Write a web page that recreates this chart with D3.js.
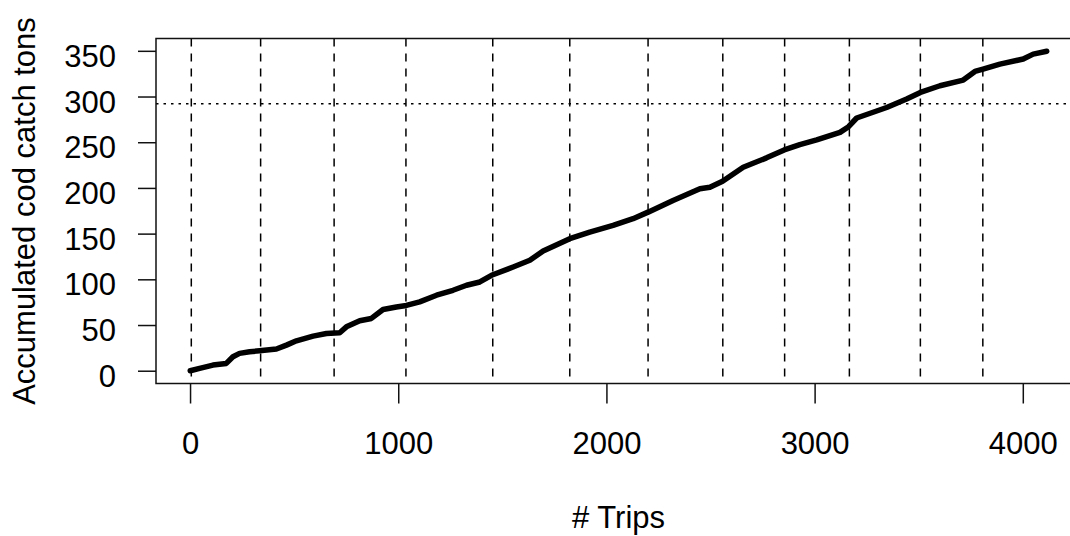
<!DOCTYPE html>
<html>
<head>
<meta charset="utf-8">
<script src="https://cdn.jsdelivr.net/npm/d3@7.9.0/dist/d3.min.js"></script>
<style>
  body { margin: 0; background: #fff; }
  svg { display: block; font-family: Arial, "Liberation Sans", sans-serif; }
</style>
</head>
<body>
<div id="chart"></div>
<script>
// accumulated catch
const trips = [1, 46, 110, 174, 206, 238, 286, 334, 415, 463, 511, 591, 655, 719, 751, 815, 871, 927, 991, 1039,
  1103, 1184, 1263, 1328, 1392, 1448, 1552, 1632, 1696, 1824, 1920, 2032, 2128, 2200, 2320, 2449, 2497, 2558,
  2657, 2769, 2854, 2929, 3010, 3122, 3163, 3202, 3346, 3442, 3508, 3602, 3714, 3770, 3809, 3890, 4002, 4050, 4115];
const tons = [0, 2.6, 6.2, 8, 15.3, 19, 20.7, 21.8, 23.7, 28, 32.7, 37.9, 40.8, 41.5, 48, 54.6, 57.2, 67, 69.8, 71.4,
  75.3, 82.6, 88, 93.5, 97.1, 104.4, 113.5, 120.8, 131, 144.5, 151.7, 159, 166.3, 173.5, 186.3, 199, 200.8, 207.4,
  222.6, 232.9, 241.6, 247.4, 252.5, 260.8, 267, 276.5, 288, 297.3, 304.5, 311.8, 318, 327.4, 330, 335.5, 341, 346.4, 349.5];

// vertical dashed markers and the dotted horizontal level
const breaks = [6, 339, 692, 1037, 1454, 1824, 2200, 2559, 2856, 3167, 3508, 3808];
const level = 292;

const xTicks = [0, 1000, 2000, 3000, 4000];
const yTicks = [0, 50, 100, 150, 200, 250, 300, 350];

const width = 1070;
const height = 536;
const plot = { left: 156, right: 1081, top: 38.5, bottom: 383.5 };
const fontSize = 31;

const data = trips.map((t, i) => ({ trip: t, tons: tons[i] }));

// R style 4% padding on each side
function padded(ext) {
  const d = (ext[1] - ext[0]) * 0.04;
  return [ext[0] - d, ext[1] + d];
}

const xScale = d3.scaleLinear()
  .domain(padded(d3.extent(data, d => d.trip)))
  .range([plot.left, plot.right]);

const yScale = d3.scaleLinear()
  .domain(padded(d3.extent(data, d => d.tons)))
  .range([plot.bottom, plot.top]);

const svg = d3.select('#chart')
  .append('svg')
  .attr('width', width)
  .attr('height', height);

svg.append('rect')
  .attr('width', width)
  .attr('height', height)
  .attr('fill', '#fff');

// dashed verticals
svg.append('g')
  .selectAll('line')
  .data(breaks)
  .join('line')
  .attr('x1', d => xScale(d))
  .attr('x2', d => xScale(d))
  .attr('y1', plot.top)
  .attr('y2', plot.bottom)
  .attr('stroke', '#000')
  .attr('stroke-width', 1.5)
  .attr('stroke-dasharray', '8,7');

// dotted level
svg.append('line')
  .attr('x1', plot.left)
  .attr('x2', plot.right)
  .attr('y1', yScale(level))
  .attr('y2', yScale(level))
  .attr('stroke', '#000')
  .attr('stroke-width', 1.5)
  .attr('stroke-dasharray', '2.5,5');

const line = d3.line()
  .x(d => xScale(d.trip))
  .y(d => yScale(d.tons));

svg.append('path')
  .datum(data)
  .attr('d', line)
  .attr('fill', 'none')
  .attr('stroke', '#000')
  .attr('stroke-width', 5.5)
  .attr('stroke-linejoin', 'round')
  .attr('stroke-linecap', 'round');

// box
svg.append('rect')
  .attr('x', plot.left)
  .attr('y', plot.top)
  .attr('width', plot.right - plot.left)
  .attr('height', plot.bottom - plot.top)
  .attr('fill', 'none')
  .attr('stroke', '#111')
  .attr('stroke-width', 1.5);

const xAxis = svg.append('g')
  .attr('transform', `translate(0, ${plot.bottom})`)
  .call(d3.axisBottom(xScale).tickValues(xTicks).tickSize(20).tickSizeOuter(0).tickFormat(d3.format('d')));
xAxis.select('.domain').remove();
xAxis.selectAll('.tick line').attr('stroke', '#111').attr('stroke-width', 1.5);
xAxis.selectAll('.tick text')
  .attr('y', 70)
  .attr('dy', null)
  .attr('fill', '#000')
  .style('font-size', fontSize + 'px')
  .style('font-family', 'Arial, "Liberation Sans", sans-serif');

const yAxis = svg.append('g')
  .attr('transform', `translate(${plot.left}, 0)`)
  .call(d3.axisLeft(yScale).tickValues(yTicks).tickSize(18).tickSizeOuter(0));
yAxis.select('.domain').remove();
yAxis.selectAll('.tick line').attr('stroke', '#111').attr('stroke-width', 1.5);
yAxis.selectAll('.tick text')
  .attr('x', -40)
  .attr('dy', '0.5em')
  .attr('fill', '#000')
  .style('font-size', fontSize + 'px')
  .style('font-family', 'Arial, "Liberation Sans", sans-serif');

svg.append('text')
  .attr('x', (plot.left + plot.right) / 2)
  .attr('y', 528)
  .attr('text-anchor', 'middle')
  .style('font-size', fontSize + 'px')
  .text('# Trips');

svg.append('text')
  .attr('transform', `translate(34.5, ${(plot.top + plot.bottom) / 2}) rotate(-90)`)
  .attr('text-anchor', 'middle')
  .style('font-size', fontSize + 'px')
  .text('Accumulated cod catch tons');
</script>
</body>
</html>
